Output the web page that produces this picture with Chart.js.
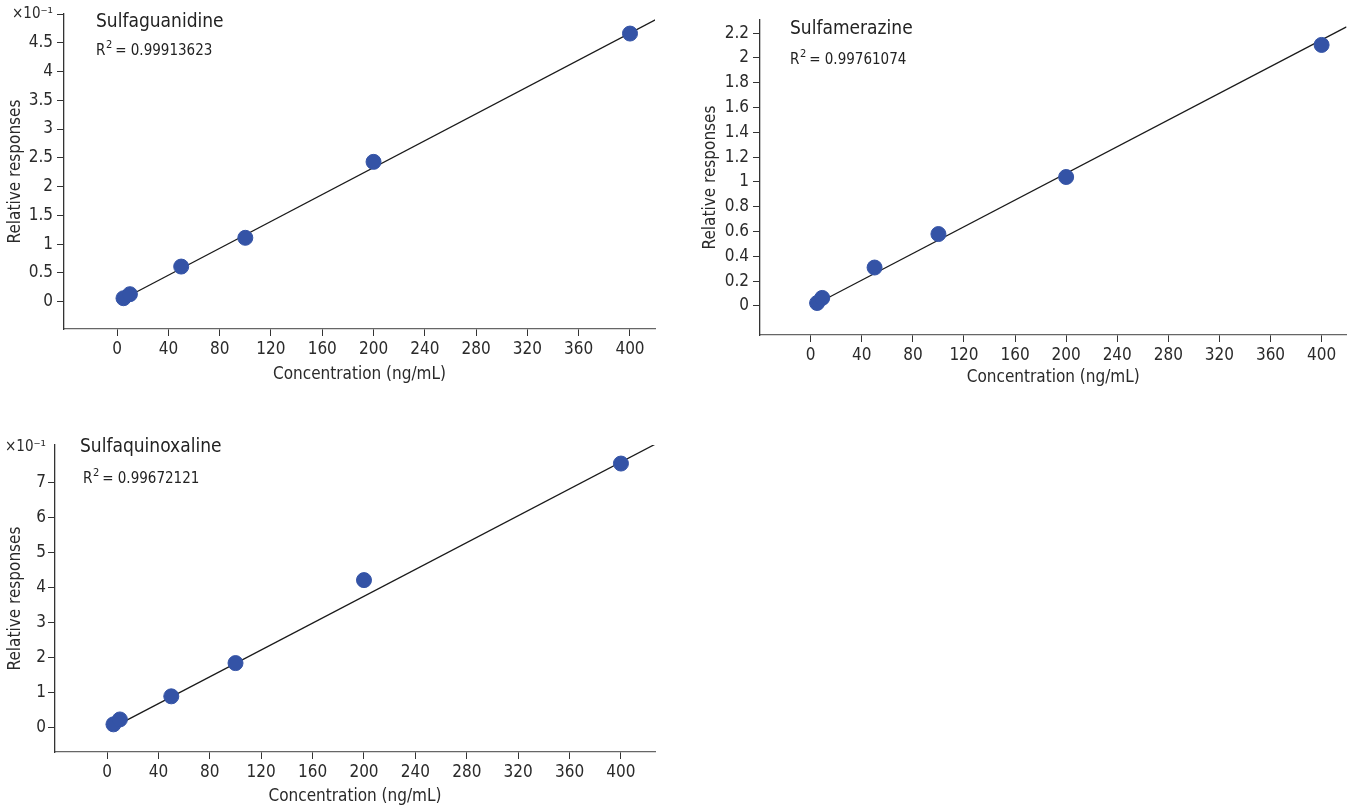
<!DOCTYPE html>
<html>
<head>
<meta charset="utf-8">
<script src="https://cdn.jsdelivr.net/npm/chart.js@4.4.1/dist/chart.umd.min.js"></script>
<style>
  html, body { margin: 0; padding: 0; background: #fff; }
  body { width: 1355px; height: 809px; position: relative; overflow: hidden; }
  canvas { position: absolute; }
</style>
</head>
<body>
<canvas id="c1" width="680" height="400" style="left:0;top:0"></canvas>
<canvas id="c2" width="660" height="400" style="left:695px;top:0"></canvas>
<canvas id="c3" width="680" height="389" style="left:0;top:420px"></canvas>
<script>
const FONT = '"Liberation Sans Narrow", "DejaVu Sans Condensed", "Roboto", sans-serif';

// --- data (y values as displayed on each axis) ---
const xTicks = [0, 40, 80, 120, 160, 200, 240, 280, 320, 360, 400];

// Sulfaguanidine (x10^-1)
const guanConc = [5, 10, 50, 100, 200, 400];
const guanResp = [0.06, 0.13, 0.61, 1.11, 2.43, 4.66];
const guanFitX = [5, 420];
const guanFitY = [0.05, 4.9];
const guanYTicks = [0, 0.5, 1, 1.5, 2, 2.5, 3, 3.5, 4, 4.5, 5];

// Sulfamerazine
const merConc = [5, 9, 50, 100, 200, 400];
const merResp = [0.024, 0.065, 0.31, 0.58, 1.04, 2.105];
const merFitX = [5, 419.5];
const merFitY = [0.02, 2.25];
const merYTicks = [0, 0.2, 0.4, 0.6, 0.8, 1, 1.2, 1.4, 1.6, 1.8, 2, 2.2];

// Sulfaquinoxaline (x10^-1)
const quinConc = [5, 10, 50, 100, 200, 400];
const quinResp = [0.08, 0.22, 0.88, 1.83, 4.2, 7.53];
const quinFitX = [5, 426.5];
const quinFitY = [0.0, 8.08];
const quinYTicks = [0, 1, 2, 3, 4, 5, 6, 7, 8];

const POINT = '#3453a6';
const AXIS = '#333';

// title + R^2 note drawn inside the plot area
const notePlugin = {
  id: 'note',
  afterDraw(chart, args, o) {
    const { ctx, chartArea } = chart;
    ctx.save();
    ctx.fillStyle = '#222';
    ctx.textBaseline = 'middle';
    ctx.textAlign = 'left';
    ctx.font = '19px ' + FONT;
    ctx.fillText(o.title, chartArea.left + o.tx, chartArea.top + o.ty);
    let x = chartArea.left + o.rx;
    const y = chartArea.top + o.ry;
    ctx.font = '15px ' + FONT;
    ctx.fillText('R', x, y);
    x += ctx.measureText('R').width + 0.5;
    ctx.font = '11px ' + FONT;
    ctx.fillText('2', x, y - 6);
    x += ctx.measureText('2').width + 3;
    ctx.font = '15px ' + FONT;
    ctx.fillText('= ' + o.r2, x, y);
    ctx.restore();
  }
};

function makeChart(id, c) {
  const top = c.yTicks[c.yTicks.length - 1];
  return new Chart(document.getElementById(id), {
    type: 'scatter',
    data: {
      datasets: [
        {
          data: c.conc.map((x, i) => ({ x, y: c.resp[i] })),
          backgroundColor: POINT,
          borderColor: POINT,
          pointRadius: 7.5,
          pointHoverRadius: 7.5,
          order: 1,
        },
        {
          data: c.fitX.map((x, i) => ({ x, y: c.fitY[i] })),
          showLine: true,
          borderColor: '#1a1a1a',
          borderWidth: 1.3,
          pointRadius: 0,
          order: 2,
        },
      ],
    },
    plugins: [notePlugin],
    options: {
      responsive: false,
      animation: false,
      events: [],
      layout: { padding: { left: 0, top: c.padTop, right: c.padRight, bottom: 0 } },
      plugins: {
        legend: { display: false },
        tooltip: { enabled: false },
        note: c.note,
      },
      scales: {
        x: {
          type: 'linear',
          min: c.xMin,
          max: c.xMax,
          afterBuildTicks: (s) => { s.ticks = xTicks.map((v) => ({ value: v })); },
          afterFit: (s) => { s.height = c.xH; },
          ticks: { color: '#2a2a2a', font: { family: FONT, size: 17 }, padding: 3, maxRotation: 0, autoSkip: false },
          grid: { display: true, drawOnChartArea: false, drawTicks: true, tickLength: 7, color: AXIS },
          border: { display: true, color: '#666', width: 1.3 },
          title: {
            display: true,
            text: 'Concentration (ng/mL)',
            color: '#2a2a2a',
            font: { family: FONT, size: 17 },
            padding: { top: 0, bottom: c.xTitlePad },
          },
        },
        y: {
          type: 'linear',
          min: c.yMin,
          max: c.yMax,
          afterBuildTicks: (s) => { s.ticks = c.yTicks.map((v) => ({ value: v })); },
          afterFit: (s) => { s.width = c.yW; },
          ticks: {
            color: '#2a2a2a',
            font: (ctx) => ({
              family: FONT,
              size: c.scaled && ctx.tick && ctx.tick.value === top ? 15 : 17,
            }),
            padding: c.yTickPad,
            autoSkip: false,
            callback: (v) => (c.scaled && v === top ? '×10⁻¹' : String(v)),
          },
          grid: {
            display: true,
            drawOnChartArea: false,
            drawTicks: true,
            tickLength: 7,
            color: (ctx) => (c.hideTopTick && ctx.tick && ctx.tick.value === top ? 'rgba(0,0,0,0)' : AXIS),
          },
          border: { display: true, color: AXIS, width: 1.3 },
          title: {
            display: true,
            text: 'Relative responses',
            color: '#2a2a2a',
            font: { family: FONT, size: 17 },
            padding: { top: 5, bottom: 0 },
          },
        },
      },
    },
  });
}

makeChart('c1', {
  conc: guanConc, resp: guanResp, fitX: guanFitX, fitY: guanFitY, yTicks: guanYTicks,
  xMin: -41.4, xMax: 419.5, yMin: -0.475, yMax: 5, scaled: true, hideTopTick: false,
  padTop: 14, padRight: 25, yW: 64, xH: 71, xTitlePad: 15, yTickPad: 4,
  note: { title: 'Sulfaguanidine', r2: '0.99913623', tx: 32, ty: 8, rx: 32, ry: 37 },
});

makeChart('c2', {
  conc: merConc, resp: merResp, fitX: merFitX, fitY: merFitY, yTicks: merYTicks,
  xMin: -39.7, xMax: 419.5, yMin: -0.234, yMax: 2.306, scaled: false, hideTopTick: false,
  padTop: 20, padRight: 5, yW: 65, xH: 65, xTitlePad: 12, yTickPad: 4,
  note: { title: 'Sulfamerazine', r2: '0.99761074', tx: 30, ty: 9, rx: 30, ry: 40 },
});

makeChart('c3', {
  conc: quinConc, resp: quinResp, fitX: quinFitX, fitY: quinFitY, yTicks: quinYTicks,
  xMin: -40.5, xMax: 426.5, yMin: -0.71, yMax: 8.06, scaled: true, hideTopTick: true,
  padTop: 25, padRight: 25, yW: 55, xH: 57, xTitlePad: 2, yTickPad: 2,
  note: { title: 'Sulfaquinoxaline', r2: '0.99672121', tx: 25, ty: 2, rx: 28, ry: 34 },
});
</script>
</body>
</html>
